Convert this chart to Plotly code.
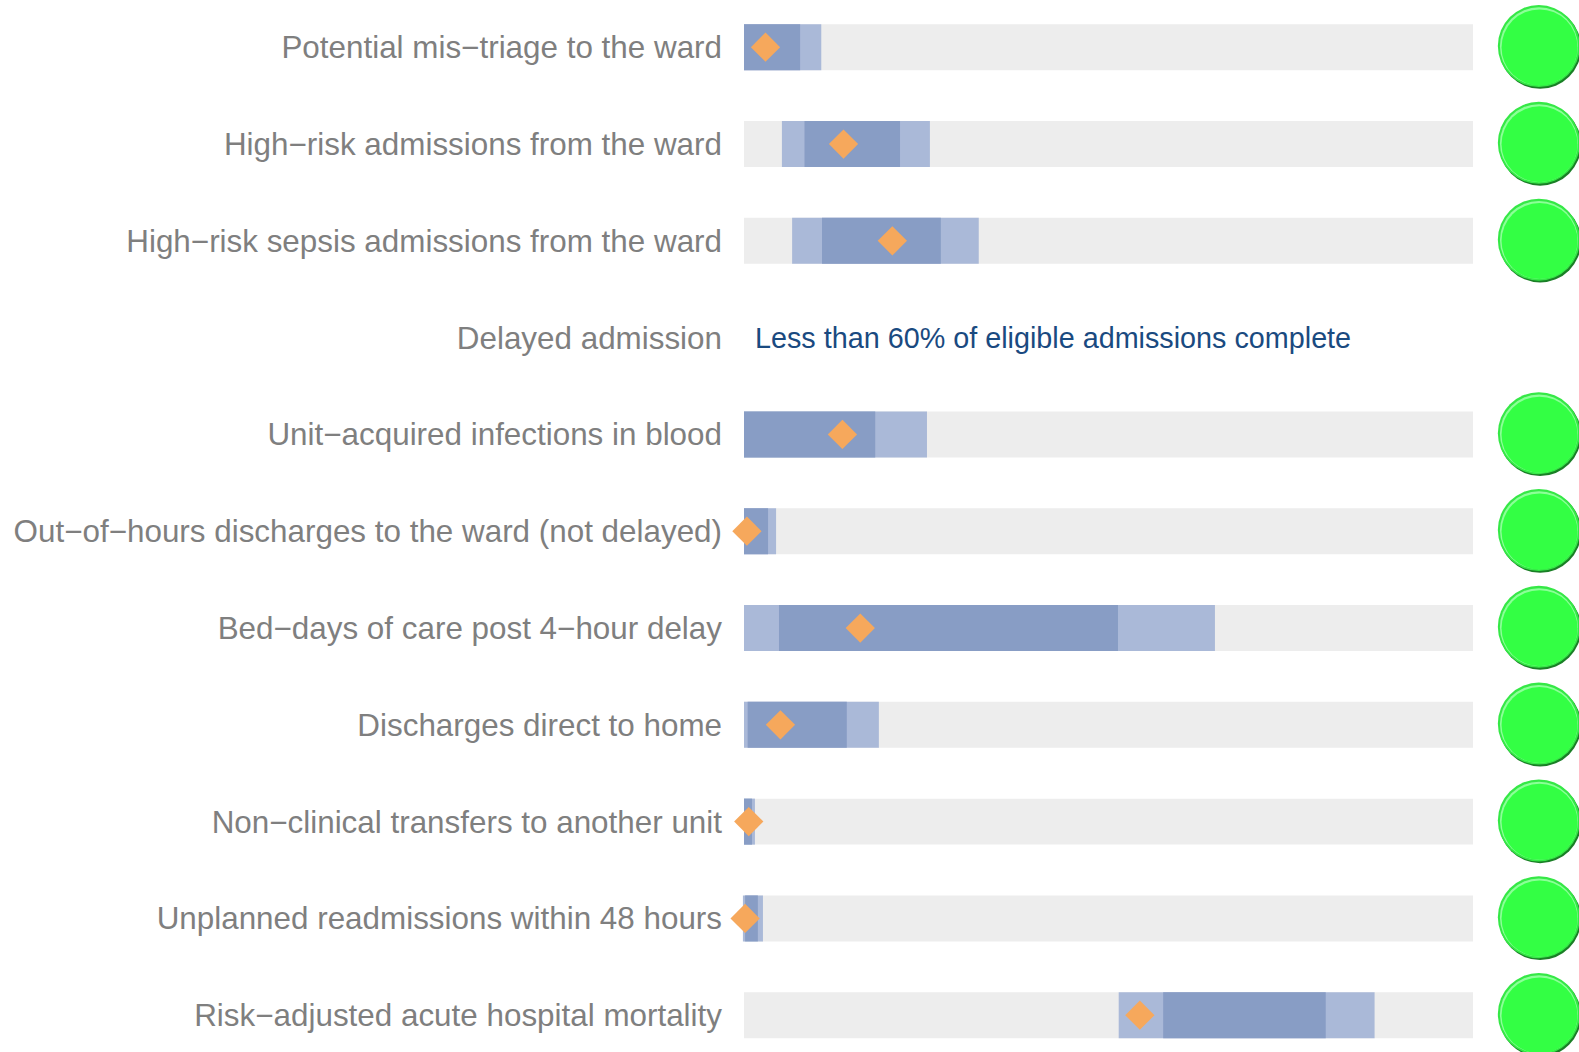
import plotly.graph_objects as go

labels = ["Potential mis−triage to the ward", "High−risk admissions from the ward",
          "High−risk sepsis admissions from the ward", "Delayed admission",
          "Unit−acquired infections in blood", "Out−of−hours discharges to the ward (not delayed)",
          "Bed−days of care post 4−hour delay", "Discharges direct to home",
          "Non−clinical transfers to another unit", "Unplanned readmissions within 48 hours",
          "Risk−adjusted acute hospital mortality"]
rows = list(range(len(labels)))
full_scale = [100, 100, 100, None, 100, 100, 100, 100, 100, 100, 100]
light_lo = [0, 5.2, 6.6, None, 0, 0, 0, 0, 0, -0.15, 51.4]
dark_lo = [0, 8.3, 10.7, None, 0, 0, 4.8, 0.5, 0, 0.15, 57.5]
dark_hi = [7.7, 21.4, 27.0, None, 18.0, 3.3, 51.3, 14.1, 1.1, 1.9, 79.8]
light_hi = [10.6, 25.5, 32.2, None, 25.1, 4.4, 64.6, 18.5, 1.5, 2.6, 86.5]
point = [2.95, 13.65, 20.35, None, 13.5, 0.4, 15.95, 5.0, 0.65, 0.15, 54.3]
status_x = [109.1, 109.1, 109.1, None, 109.1, 109.1, 109.1, 109.1, 109.1, 109.1, 109.1]
note = "Less than 60% of eligible admissions complete"

BAR = 0.475
FONT = "Liberation Sans, Arial, sans-serif"


def span(lo, hi):
    return [None if a is None else b - a for a, b in zip(lo, hi)]


def shifted(vals, d):
    return [None if v is None else v + d for v in vals]


fig = go.Figure()
fig.add_trace(go.Bar(y=rows, x=full_scale, base=0, orientation="h", width=BAR,
                     marker=dict(color="#EDEDED", line_width=0)))
fig.add_trace(go.Bar(y=rows, x=span(light_lo, light_hi), base=light_lo, orientation="h", width=BAR,
                     marker=dict(color="#AAB9D8", line_width=0)))
fig.add_trace(go.Bar(y=rows, x=span(dark_lo, dark_hi), base=dark_lo, orientation="h", width=BAR,
                     marker=dict(color="#889DC5", line_width=0)))
fig.add_trace(go.Scatter(y=rows, x=point, mode="markers", cliponaxis=False,
                         marker=dict(symbol="diamond", size=22.5, color="#F6A85C", line_width=0)))

px_x, px_y = 1 / 7.29, 1 / 96.8
for dx, dy, size, colour in [(0.8, 0.6, 82, "#1A7F26"), (-0.5, -1.2, 82, "#35E846"),
                             (-0.4, -0.9, 78, "#8CFF98"), (0.2, 0.2, 76, "#33FF44")]:
    fig.add_trace(go.Scatter(y=[None if v is None else r + dy * px_y for r, v in zip(rows, status_x)],
                             x=shifted(status_x, dx * px_x), mode="markers", cliponaxis=False,
                             marker=dict(size=size, color=colour, line_width=0)))

fig.add_annotation(x=1.2, y=3, xref="x", yref="y", text=note, showarrow=False, xanchor="left",
                   font=dict(family=FONT, size=28.75, color="#1A4A80"))

fig.update_layout(
    width=1579, height=1052, autosize=False, showlegend=False, barmode="overlay",
    margin=dict(l=728, r=0, t=0, b=0, pad=0),
    paper_bgcolor="white", plot_bgcolor="white",
    xaxis=dict(range=[-2.195, 114.54], visible=False, fixedrange=True),
    yaxis=dict(range=[10.38, -0.488], tickvals=rows, ticktext=labels, ticks="", showgrid=False,
               zeroline=False, showline=False, ticklabelstandoff=5,
               tickfont=dict(family=FONT, size=31.4, color="#7F7F7F")),
)
fig.write_html("out.html", post_script="document.body.style.margin='0';document.body.style.overflow='hidden';",
               config=dict(displayModeBar=False))
